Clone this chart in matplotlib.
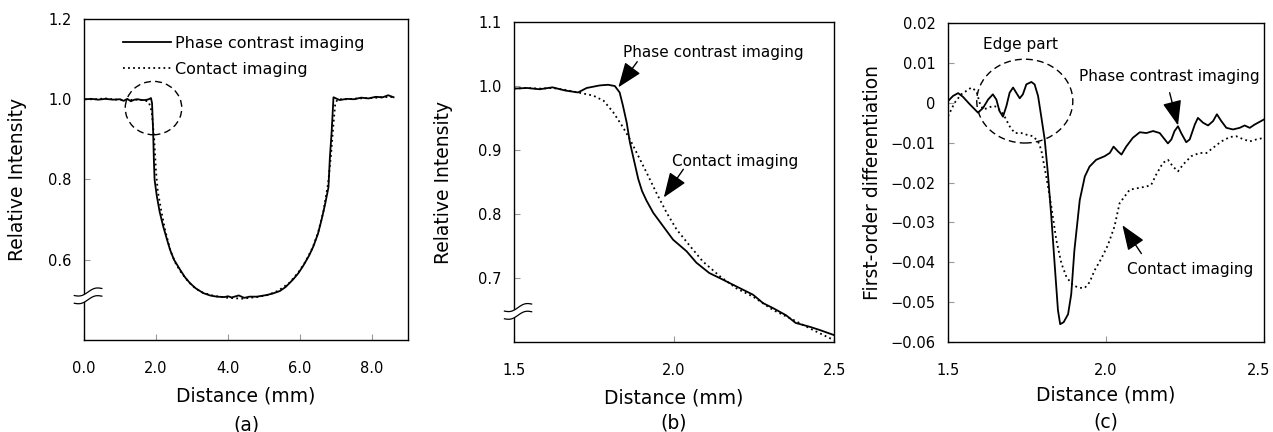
"""Phase contrast vs contact imaging: edge profiles and first derivative."""

import numpy as np
import matplotlib.pyplot as plt
import matplotlib.transforms as mtransforms
from matplotlib.patches import Ellipse, Polygon
from matplotlib.ticker import FixedLocator, FuncFormatter

plt.rcParams["font.family"] = ["DejaVu Sans"]

# (a) full profile
a_phase_x = [0.03, 0.2, 0.4, 0.6, 0.8, 1.0, 1.1, 1.2, 1.3, 1.4, 1.5, 1.6, 1.7, 1.8,
             1.86, 1.89, 1.92, 1.94, 1.96, 2.02, 2.1, 2.2, 2.3, 2.39, 2.5, 2.67, 2.8,
             2.94, 3.1, 3.31, 3.5, 3.69, 3.9, 4.0, 4.1, 4.3, 4.45, 4.6, 4.8, 5.07,
             5.25, 5.44, 5.6, 5.81, 5.95, 6.09, 6.25, 6.37, 6.5, 6.6, 6.7, 6.79,
             6.83, 6.88, 6.93, 6.98, 7.1, 7.3, 7.5, 7.7, 7.9, 8.1, 8.3, 8.45, 8.6]
a_phase_y = [1.000, 1.001, 0.999, 1.001, 0.999, 1.000, 0.996, 1.001, 0.995, 0.999,
             1.000, 0.998, 0.998, 1.000, 1.003, 0.990, 0.920, 0.850, 0.800, 0.760,
             0.720, 0.683, 0.652, 0.625, 0.600, 0.575, 0.557, 0.542, 0.529, 0.517,
             0.511, 0.508, 0.507, 0.509, 0.506, 0.511, 0.505, 0.508, 0.508, 0.512,
             0.516, 0.522, 0.532, 0.551, 0.566, 0.585, 0.610, 0.633, 0.665, 0.700,
             0.740, 0.780, 0.855, 0.920, 1.005, 1.003, 0.998, 1.001, 1.000, 1.004,
             1.002, 1.006, 1.005, 1.010, 1.005]
a_contact_x = [0.03, 0.3, 0.6, 0.9, 1.2, 1.5, 1.7, 1.8, 1.88, 1.95, 2.0, 2.05, 2.15,
               2.25, 2.4, 2.55, 2.7, 2.9, 3.1, 3.3, 3.6, 4.0, 4.4, 4.8, 5.1, 5.4,
               5.7, 5.95, 6.15, 6.35, 6.5, 6.65, 6.78, 6.86, 6.93, 6.98, 7.05, 7.3,
               7.6, 7.9, 8.2, 8.5, 8.6]
a_contact_y = [1.000, 1.000, 1.002, 0.999, 0.998, 0.999, 0.997, 0.993, 0.970, 0.900,
               0.820, 0.770, 0.720, 0.675, 0.622, 0.590, 0.568, 0.545, 0.528, 0.518,
               0.510, 0.505, 0.503, 0.507, 0.512, 0.523, 0.542, 0.568, 0.595, 0.630,
               0.667, 0.720, 0.790, 0.860, 0.940, 0.990, 1.000, 1.000, 1.002, 1.003,
               1.004, 1.006, 1.005]

# (b) zoom on the left edge
b_phase_x = [1.5, 1.54, 1.58, 1.62, 1.66, 1.70, 1.727, 1.768, 1.794, 1.815, 1.83,
             1.84, 1.852, 1.862, 1.878, 1.888, 1.9, 1.914, 1.935, 1.966, 1.997, 2.039,
             2.07, 2.11, 2.143, 2.195, 2.247, 2.278, 2.31, 2.35, 2.38, 2.424, 2.455, 2.5]
b_phase_y = [0.996, 0.997, 0.995, 0.998, 0.993, 0.990, 0.997, 1.001, 1.002, 1.000,
             0.990, 0.970, 0.943, 0.912, 0.877, 0.855, 0.836, 0.821, 0.802, 0.781,
             0.760, 0.742, 0.724, 0.708, 0.700, 0.687, 0.674, 0.661, 0.653, 0.642,
             0.630, 0.624, 0.619, 0.611]
b_contact_x = [1.5, 1.54, 1.58, 1.62, 1.66, 1.70, 1.748, 1.78, 1.81, 1.84, 1.862,
               1.883, 1.914, 1.945, 1.977, 2.008, 2.05, 2.09, 2.143, 2.195, 2.247,
               2.31, 2.372, 2.434, 2.5]
b_contact_y = [0.996, 0.997, 0.996, 0.997, 0.994, 0.990, 0.985, 0.977, 0.959, 0.936,
               0.917, 0.896, 0.865, 0.833, 0.802, 0.776, 0.750, 0.726, 0.703, 0.684,
               0.671, 0.650, 0.635, 0.619, 0.603]

# (c) first-order differentiation
c_phase_x = [1.5, 1.516, 1.532, 1.547, 1.569, 1.595, 1.611, 1.627, 1.642, 1.653,
             1.663, 1.674, 1.685, 1.695, 1.706, 1.716, 1.727, 1.737, 1.748, 1.764,
             1.774, 1.785, 1.795, 1.806, 1.816, 1.827, 1.838, 1.848, 1.855, 1.866,
             1.88, 1.89, 1.90, 1.917, 1.933, 1.948, 1.969, 1.996, 2.012, 2.024,
             2.038, 2.049, 2.064, 2.085, 2.107, 2.128, 2.149, 2.17, 2.186, 2.196,
             2.207, 2.217, 2.228, 2.238, 2.254, 2.265, 2.281, 2.291, 2.307, 2.323,
             2.339, 2.351, 2.365, 2.381, 2.402, 2.423, 2.439, 2.455, 2.47, 2.5]
c_phase_y = [0.0004, 0.0017, 0.0024, 0.0015, -0.0004, -0.0025, -0.0013, 0.0008,
             0.0021, 0.0008, -0.0021, -0.0035, -0.0008, 0.0025, 0.0038, 0.0025,
             0.0011, 0.0021, 0.0046, 0.0052, 0.0046, 0.0017, -0.0034, -0.0092,
             -0.0176, -0.0286, -0.041, -0.052, -0.0555, -0.055, -0.053, -0.048,
             -0.037, -0.0244, -0.0185, -0.016, -0.0143, -0.0134, -0.0126, -0.011,
             -0.0122, -0.013, -0.011, -0.0088, -0.0074, -0.0076, -0.0071, -0.0076,
             -0.0092, -0.0102, -0.0092, -0.0071, -0.0059, -0.0076, -0.0099, -0.0092,
             -0.0055, -0.0038, -0.005, -0.0057, -0.0046, -0.0029, -0.0046, -0.0063,
             -0.0067, -0.0063, -0.0057, -0.0063, -0.0055, -0.0042]
c_contact_x = [1.5, 1.521, 1.542, 1.574, 1.59, 1.6, 1.611, 1.627, 1.642, 1.653,
               1.674, 1.695, 1.711, 1.732, 1.748, 1.769, 1.785, 1.795, 1.811, 1.827,
               1.843, 1.859, 1.875, 1.896, 1.917, 1.933, 1.948, 1.964, 1.985, 2.006,
               2.027, 2.043, 2.059, 2.075, 2.101, 2.128, 2.143, 2.159, 2.18, 2.196,
               2.212, 2.228, 2.244, 2.27, 2.296, 2.318, 2.339, 2.365, 2.392, 2.412,
               2.433, 2.455, 2.476, 2.5]
c_contact_y = [-0.0034, 0.0, 0.0021, 0.0038, 0.0029, 0.0, -0.0017, -0.0013, -0.0008,
               -0.001, -0.0027, -0.0059, -0.0076, -0.0076, -0.008, -0.0084, -0.0097,
               -0.0118, -0.0185, -0.026, -0.0345, -0.0403, -0.0437, -0.0458, -0.0464,
               -0.0464, -0.045, -0.042, -0.0391, -0.0357, -0.031, -0.0252, -0.0235,
               -0.0218, -0.0214, -0.021, -0.0206, -0.018, -0.0151, -0.0143, -0.016,
               -0.0172, -0.0155, -0.0134, -0.0126, -0.0126, -0.0113, -0.0097, -0.0086,
               -0.0084, -0.0091, -0.0097, -0.0092, -0.0088]

SOLID = dict(color="black", lw=1.3, ls="-")
DOTTED = dict(color="black", lw=1.3, ls=(0, (1.0, 1.8)))
ARROW = dict(arrowstyle="-|>,head_length=1.1,head_width=0.42", color="black",
             lw=1.0, mutation_scale=14, shrinkA=0, shrinkB=0)


def style_axes(ax):
    for sp in ax.spines.values():
        sp.set_linewidth(1.0)
    ax.tick_params(axis="both", direction="in", length=4, width=0.8,
                   color="#999999", labelsize=10.5)
    ax.tick_params(axis="x", pad=15)
    ax.tick_params(axis="y", pad=9)


def add_break(ax, yfrac):
    # two wavy lines crossing the left spine, white band between them
    t = np.linspace(0, 1, 30)
    xs = -0.03 + 0.085 * t
    base = yfrac + 0.022 * (t - 0.5) - 0.006 * np.sin(2 * np.pi * t)
    lo, hi = base - 0.012, base + 0.012
    verts = np.column_stack([np.r_[xs, xs[::-1]], np.r_[lo, hi[::-1]]])
    ax.add_patch(Polygon(verts, closed=True, transform=ax.transAxes,
                         facecolor="white", edgecolor="none", clip_on=False,
                         zorder=5))
    for yy in (lo, hi):
        ax.plot(xs, yy, transform=ax.transAxes, color="black", lw=0.9,
                clip_on=False, zorder=6)


fig = plt.figure(figsize=(12.73, 4.32), dpi=100)
ax_a = fig.add_axes([0.066, 0.213, 0.2545, 0.743])
ax_b = fig.add_axes([0.4038, 0.208, 0.2514, 0.741])
ax_c = fig.add_axes([0.7447, 0.208, 0.2482, 0.739])

# ---- (a)
ax_a.plot(a_phase_x, a_phase_y, label="Phase contrast imaging", **SOLID)
ax_a.plot(a_contact_x, a_contact_y, label="Contact imaging", **DOTTED)
ax_a.set_xlim(0, 9)
ax_a.set_ylim(0.4, 1.2)
ax_a.xaxis.set_major_locator(FixedLocator([0, 2, 4, 6, 8]))
ax_a.yaxis.set_major_locator(FixedLocator([0.6, 0.8, 1.0, 1.2]))
ax_a.xaxis.set_major_formatter(FuncFormatter(lambda v, p: f"{v:.1f}"))
ax_a.yaxis.set_major_formatter(FuncFormatter(lambda v, p: f"{v:.1f}"))
ax_a.add_patch(Ellipse((1.93, 0.978), 1.57, 0.133, fill=False, color="black",
                       lw=1.0, ls=(0, (5, 3))))
ax_a.legend(loc="upper left", bbox_to_anchor=(0.1, 0.968), frameon=False,
            fontsize=11.5, handlelength=3.0, handletextpad=0.25,
            labelspacing=0.7, borderaxespad=0)
add_break(ax_a, 0.1375)

# ---- (b)
ax_b.plot(b_phase_x, b_phase_y, **SOLID)
ax_b.plot(b_contact_x, b_contact_y, **DOTTED)
ax_b.set_xlim(1.5, 2.5)
ax_b.set_ylim(0.6, 1.1)
ax_b.xaxis.set_major_locator(FixedLocator([1.5, 2.0, 2.5]))
ax_b.yaxis.set_major_locator(FixedLocator([0.7, 0.8, 0.9, 1.0, 1.1]))
ax_b.xaxis.set_major_formatter(FuncFormatter(lambda v, p: f"{v:.1f}"))
ax_b.yaxis.set_major_formatter(FuncFormatter(lambda v, p: f"{v:.1f}"))
ax_b.text(2.122, 1.053, "Phase contrast imaging", fontsize=11, ha="center",
          va="center")
ax_b.annotate("", xy=(1.826, 0.998), xytext=(1.885, 1.038), arrowprops=ARROW)
ax_b.text(2.191, 0.882, "Contact imaging", fontsize=11, ha="center", va="center")
ax_b.annotate("", xy=(1.968, 0.826), xytext=(2.029, 0.870), arrowprops=ARROW)
add_break(ax_b, 0.096)

# ---- (c)
ax_c.plot(c_phase_x, c_phase_y, **SOLID)
ax_c.plot(c_contact_x, c_contact_y, **DOTTED)
ax_c.set_xlim(1.5, 2.5)
ax_c.set_ylim(-0.06, 0.02)
ax_c.xaxis.set_major_locator(FixedLocator([1.5, 2.0, 2.5]))
ax_c.yaxis.set_major_locator(FixedLocator(np.arange(-6, 3) / 100))
ax_c.xaxis.set_major_formatter(FuncFormatter(lambda v, p: f"{v:.1f}"))
ax_c.yaxis.set_major_formatter(
    FuncFormatter(lambda v, p: "0" if abs(v) < 1e-9 else f"{v:.2f}".replace("-", "\u2212")))
ax_c.add_patch(Ellipse((1.743, 0.0004), 0.304, 0.021, fill=False, color="black",
                       lw=1.0, ls=(0, (5, 3))))
ax_c.text(1.729, 0.0147, "Edge part", fontsize=11, ha="center", va="center")
ax_c.text(2.2015, 0.0066, "Phase contrast imaging", fontsize=11, ha="center",
          va="center")
ax_c.annotate("", xy=(2.228, -0.0057), xytext=(2.2015, 0.0025), arrowprops=ARROW)
ax_c.text(2.266, -0.0417, "Contact imaging", fontsize=11, ha="center", va="center")
ax_c.annotate("", xy=(2.052, -0.0307), xytext=(2.112, -0.0378), arrowprops=ARROW)

# labels and captions
for ax, ylabel, ylx, xly, cap, capy in [
    (ax_a, "Relative Intensity", -0.175, -0.146, "(a)", -0.265),
    (ax_b, "Relative Intensity", -0.19, -0.144, "(b)", -0.253),
    (ax_c, "First-order differentiation", -0.209, -0.135, "(c)", -0.25),
]:
    style_axes(ax)
    ax.set_ylabel(ylabel, fontsize=13.5)
    ax.set_xlabel("Distance (mm)", fontsize=13.5)
    ax.yaxis.set_label_coords(ylx, 0.5)
    ax.xaxis.set_label_coords(0.5, xly)
    ax.text(0.5, capy, cap, transform=ax.transAxes, fontsize=13.5,
            ha="center", va="center")

# keep the last tick label of (c) inside the figure edge
last = ax_c.get_xticklabels()[-1]
last.set_transform(last.get_transform()
                   + mtransforms.ScaledTranslation(-4 / 72, 0, fig.dpi_scale_trans))

fig.savefig("out.png", dpi=100)
